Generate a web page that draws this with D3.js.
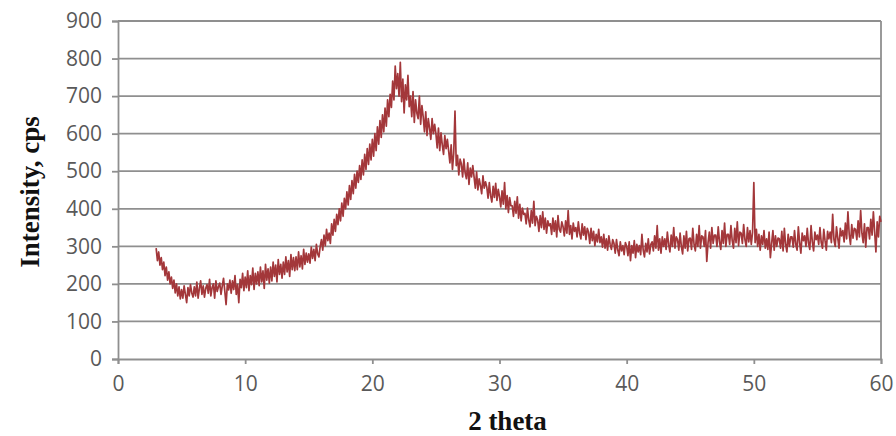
<!DOCTYPE html>
<html><head><meta charset="utf-8">
<script src="https://cdn.jsdelivr.net/npm/d3@7"></script>
<style>html,body{margin:0;padding:0;background:#fff;}svg{display:block;}</style>
</head><body>
<svg id="c" width="896" height="436"></svg>
<script>
// X start and step of the sampled pattern (2 theta, degrees)
const xStart = 3.0;
const xStep = 0.1;
// Intensity (cps), one row per degree from 3 to 59, last value at 60
const intensity = [
  295,262,285,250,270,238,258,222,245,210,
  232,200,218,188,210,176,200,168,192,160,
  185,162,195,172,150,190,168,198,176,165,
  192,168,205,162,188,208,172,195,165,188,
  198,175,212,168,190,200,162,208,180,192,
  202,172,195,215,180,145,200,184,210,175,
  208,185,222,172,198,150,212,190,228,182,
  218,190,235,182,222,198,242,185,228,200,
  232,195,245,205,235,188,252,210,240,202,
  245,208,258,220,250,205,265,225,252,215,
  258,225,272,232,262,220,278,238,270,235,
  272,238,285,245,275,240,292,252,282,258,
  280,255,298,268,292,262,305,280,272,300,
  318,290,330,302,345,315,335,308,360,330,
  372,340,385,358,400,368,415,380,428,400,
  445,410,462,425,475,440,492,455,500,470,
  515,478,530,490,545,505,560,518,572,530,
  585,540,600,555,618,572,635,590,650,605,
  668,620,690,645,705,670,740,690,780,720,
  760,700,790,685,745,655,730,690,755,672,
  700,645,712,630,690,655,640,700,625,675,
  645,605,658,595,640,615,585,640,600,625,
  600,562,615,555,602,570,545,595,560,585,
  555,522,570,505,548,660,515,542,490,532,
  520,485,532,495,480,522,465,508,485,515,
  485,455,498,450,480,462,440,488,455,472,
  458,428,470,435,418,460,430,468,422,452,
  432,405,448,412,470,400,435,390,430,408,
  408,380,420,388,432,375,412,368,402,385,
  388,360,402,370,352,395,362,420,355,380,
  370,340,382,350,392,345,375,335,368,355,
  360,332,375,340,368,325,382,345,338,365,
  352,328,368,335,395,332,355,320,362,340,
  350,325,365,335,320,360,330,352,318,348,
  338,308,348,315,340,302,332,312,345,310,
  325,298,332,295,320,290,328,305,292,318,
  308,282,318,290,275,312,288,302,278,310,
  300,275,312,262,302,282,315,270,305,285,
  302,278,332,290,272,308,285,320,280,305,
  312,288,328,295,355,290,320,282,325,300,
  320,292,338,305,285,330,300,350,295,325,
  318,290,335,300,280,328,295,340,288,320,
  322,292,348,305,288,332,300,355,295,328,
  325,300,342,260,310,338,295,350,308,330,
  330,300,352,312,292,342,308,362,300,332,
  332,305,355,315,295,348,310,365,302,338,
  335,308,358,318,300,350,312,342,305,338,
  470,310,345,300,332,290,328,305,342,295,
  320,292,338,270,308,342,290,328,300,322,
  320,295,340,288,348,305,285,332,300,325,
  325,298,342,305,290,352,310,282,335,315,
  328,300,348,308,292,355,312,288,338,318,
  330,305,350,310,295,345,315,290,340,320,
  338,310,385,318,300,352,322,295,348,328,
  342,312,362,320,392,332,305,358,322,348,
  345,318,368,325,395,335,310,360,298,350,
  350,320,372,330,392,338,285,365,325,380,
  365
];
const xTicks = [0,10,20,30,40,50,60];
const yTicks = [0,100,200,300,400,500,600,700,800,900];
const xTitle = "2 theta";
const yTitle = "Intensity, cps";

const svg = d3.select("#c");
const L = 118, R = 881, T = 21, B = 359;
const x = d3.scaleLinear().domain([0,60]).range([L,R]);
const y = d3.scaleLinear().domain([0,900]).range([B,T]);
const grid = "#8f8f8f";
const txt = "#595959";

// gridlines
svg.append("g").selectAll("line").data(yTicks.filter(d=>d>0)).join("line")
  .attr("x1",L).attr("x2",R).attr("y1",d=>y(d)).attr("y2",d=>y(d))
  .attr("stroke",grid).attr("stroke-width",1.8);
// right border
svg.append("line").attr("x1",R).attr("x2",R).attr("y1",T).attr("y2",B)
  .attr("stroke",grid).attr("stroke-width",1.8);

// y axis
const ya = svg.append("g").attr("transform",`translate(${L},0)`)
  .call(d3.axisLeft(y).tickValues(yTicks).tickSize(6).tickPadding(10));
// x axis
const xa = svg.append("g").attr("transform",`translate(0,${B})`)
  .call(d3.axisBottom(x).tickValues(xTicks).tickSize(5).tickPadding(12));
[ya,xa].forEach(a=>{
  a.select(".domain").attr("stroke",grid).attr("stroke-width",1.8);
  a.selectAll(".tick line").attr("stroke",grid).attr("stroke-width",1.8);
  a.selectAll(".tick text").attr("fill",txt)
    .style("font-family","'Open Sans', sans-serif").style("font-size","21px");
});

// data line
const pts = intensity.map((v,i)=>[xStart + i*xStep, v]);
svg.append("path").datum(pts)
  .attr("fill","none").attr("stroke","#a3373a").attr("stroke-width",1.7)
  .attr("stroke-linejoin","round")
  .attr("d", d3.line().x(d=>x(d[0])).y(d=>y(d[1])));

// titles
svg.append("text").attr("x",(L+R)/2+8).attr("y",430).attr("text-anchor","middle")
  .style("font-family","'Liberation Serif', 'Times New Roman', serif")
  .style("font-weight","bold").style("font-size","27px").attr("fill","#111")
  .text(xTitle);
svg.append("text").attr("transform",`translate(39,${(T+B)/2+2}) rotate(-90)`)
  .attr("text-anchor","middle")
  .style("font-family","'Liberation Serif', 'Times New Roman', serif")
  .style("font-weight","bold").style("font-size","27px").attr("fill","#111")
  .text(yTitle);
</script>
</body></html>
